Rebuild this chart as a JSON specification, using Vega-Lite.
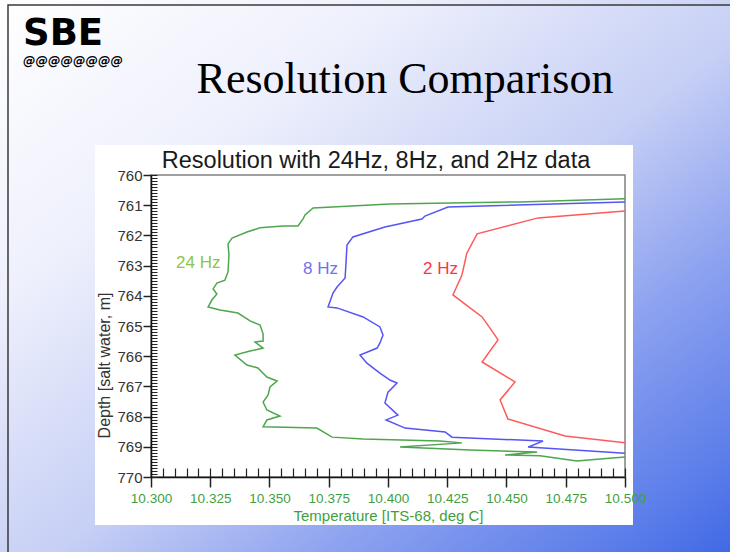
{
  "$schema": "https://vega.github.io/schema/vega-lite/v6.json",
  "width": 474,
  "height": 302,
  "autosize": {"type": "none"},
  "padding": {"left": 151, "top": 175, "right": 105, "bottom": 75},
  "background": "#ffffff",
  "config": {"view": {"stroke": null}, "font": "Liberation Sans"},
  "title": {"text": "Resolution with 24Hz, 8Hz, and 2Hz data", "frame": "group", "anchor": "middle", "orient": "top", "baseline": "alphabetic", "offset": 9, "dx": -12, "dy": 200, "fontSize": 23.5, "fontWeight": "normal", "font": "Liberation Sans", "color": "#1a1a1a", "zindex": 1},
  "datasets": {
    "profiles": [
      {"series": "24 Hz", "order": 1, "temp": 10.5, "depth": 760.79},
      {"series": "24 Hz", "order": 2, "temp": 10.4557, "depth": 760.89},
      {"series": "24 Hz", "order": 3, "temp": 10.4008, "depth": 760.96},
      {"series": "24 Hz", "order": 4, "temp": 10.3684, "depth": 761.09},
      {"series": "24 Hz", "order": 5, "temp": 10.365, "depth": 761.32},
      {"series": "24 Hz", "order": 6, "temp": 10.3641, "depth": 761.46},
      {"series": "24 Hz", "order": 7, "temp": 10.362, "depth": 761.69},
      {"series": "24 Hz", "order": 8, "temp": 10.3557, "depth": 761.69},
      {"series": "24 Hz", "order": 9, "temp": 10.346, "depth": 761.75},
      {"series": "24 Hz", "order": 10, "temp": 10.3405, "depth": 761.89},
      {"series": "24 Hz", "order": 11, "temp": 10.3342, "depth": 762.09},
      {"series": "24 Hz", "order": 12, "temp": 10.3325, "depth": 762.28},
      {"series": "24 Hz", "order": 13, "temp": 10.3329, "depth": 762.65},
      {"series": "24 Hz", "order": 14, "temp": 10.3325, "depth": 763.21},
      {"series": "24 Hz", "order": 15, "temp": 10.3312, "depth": 763.48},
      {"series": "24 Hz", "order": 16, "temp": 10.3278, "depth": 763.58},
      {"series": "24 Hz", "order": 17, "temp": 10.3262, "depth": 763.77},
      {"series": "24 Hz", "order": 18, "temp": 10.3278, "depth": 763.94},
      {"series": "24 Hz", "order": 19, "temp": 10.3257, "depth": 764.14},
      {"series": "24 Hz", "order": 20, "temp": 10.3241, "depth": 764.37},
      {"series": "24 Hz", "order": 21, "temp": 10.3291, "depth": 764.47},
      {"series": "24 Hz", "order": 22, "temp": 10.3367, "depth": 764.57},
      {"series": "24 Hz", "order": 23, "temp": 10.3418, "depth": 764.83},
      {"series": "24 Hz", "order": 24, "temp": 10.346, "depth": 764.97},
      {"series": "24 Hz", "order": 25, "temp": 10.3473, "depth": 765.26},
      {"series": "24 Hz", "order": 26, "temp": 10.3473, "depth": 765.5},
      {"series": "24 Hz", "order": 27, "temp": 10.3439, "depth": 765.53},
      {"series": "24 Hz", "order": 28, "temp": 10.3473, "depth": 765.73},
      {"series": "24 Hz", "order": 29, "temp": 10.3418, "depth": 765.83},
      {"series": "24 Hz", "order": 30, "temp": 10.3354, "depth": 765.96},
      {"series": "24 Hz", "order": 31, "temp": 10.3405, "depth": 766.29},
      {"series": "24 Hz", "order": 32, "temp": 10.3451, "depth": 766.39},
      {"series": "24 Hz", "order": 33, "temp": 10.3489, "depth": 766.69},
      {"series": "24 Hz", "order": 34, "temp": 10.3532, "depth": 766.82},
      {"series": "24 Hz", "order": 35, "temp": 10.3502, "depth": 767.02},
      {"series": "24 Hz", "order": 36, "temp": 10.3494, "depth": 767.28},
      {"series": "24 Hz", "order": 37, "temp": 10.3473, "depth": 767.52},
      {"series": "24 Hz", "order": 38, "temp": 10.3489, "depth": 767.78},
      {"series": "24 Hz", "order": 39, "temp": 10.3544, "depth": 767.98},
      {"series": "24 Hz", "order": 40, "temp": 10.3489, "depth": 768.11},
      {"series": "24 Hz", "order": 41, "temp": 10.3473, "depth": 768.34},
      {"series": "24 Hz", "order": 42, "temp": 10.37, "depth": 768.38},
      {"series": "24 Hz", "order": 43, "temp": 10.3764, "depth": 768.68},
      {"series": "24 Hz", "order": 44, "temp": 10.3895, "depth": 768.74},
      {"series": "24 Hz", "order": 45, "temp": 10.4219, "depth": 768.81},
      {"series": "24 Hz", "order": 46, "temp": 10.4312, "depth": 768.87},
      {"series": "24 Hz", "order": 47, "temp": 10.4051, "depth": 769.01},
      {"series": "24 Hz", "order": 48, "temp": 10.4346, "depth": 769.11},
      {"series": "24 Hz", "order": 49, "temp": 10.4629, "depth": 769.17},
      {"series": "24 Hz", "order": 50, "temp": 10.4494, "depth": 769.27},
      {"series": "24 Hz", "order": 51, "temp": 10.4641, "depth": 769.3},
      {"series": "24 Hz", "order": 52, "temp": 10.4797, "depth": 769.47},
      {"series": "24 Hz", "order": 53, "temp": 10.4895, "depth": 769.4},
      {"series": "24 Hz", "order": 54, "temp": 10.5, "depth": 769.34},
      {"series": "8 Hz", "order": 1, "temp": 10.5, "depth": 760.89},
      {"series": "8 Hz", "order": 2, "temp": 10.4253, "depth": 761.06},
      {"series": "8 Hz", "order": 3, "temp": 10.4156, "depth": 761.36},
      {"series": "8 Hz", "order": 4, "temp": 10.4143, "depth": 761.46},
      {"series": "8 Hz", "order": 5, "temp": 10.3987, "depth": 761.72},
      {"series": "8 Hz", "order": 6, "temp": 10.3852, "depth": 762.05},
      {"series": "8 Hz", "order": 7, "temp": 10.3827, "depth": 762.32},
      {"series": "8 Hz", "order": 8, "temp": 10.3823, "depth": 762.88},
      {"series": "8 Hz", "order": 9, "temp": 10.3819, "depth": 763.41},
      {"series": "8 Hz", "order": 10, "temp": 10.3785, "depth": 763.71},
      {"series": "8 Hz", "order": 11, "temp": 10.3768, "depth": 763.91},
      {"series": "8 Hz", "order": 12, "temp": 10.3747, "depth": 764.37},
      {"series": "8 Hz", "order": 13, "temp": 10.3785, "depth": 764.4},
      {"series": "8 Hz", "order": 14, "temp": 10.3895, "depth": 764.7},
      {"series": "8 Hz", "order": 15, "temp": 10.3966, "depth": 765.03},
      {"series": "8 Hz", "order": 16, "temp": 10.3979, "depth": 765.3},
      {"series": "8 Hz", "order": 17, "temp": 10.3966, "depth": 765.56},
      {"series": "8 Hz", "order": 18, "temp": 10.3954, "depth": 765.73},
      {"series": "8 Hz", "order": 19, "temp": 10.3882, "depth": 765.96},
      {"series": "8 Hz", "order": 20, "temp": 10.3911, "depth": 766.23},
      {"series": "8 Hz", "order": 21, "temp": 10.3966, "depth": 766.56},
      {"series": "8 Hz", "order": 22, "temp": 10.4008, "depth": 766.79},
      {"series": "8 Hz", "order": 23, "temp": 10.4038, "depth": 766.89},
      {"series": "8 Hz", "order": 24, "temp": 10.4, "depth": 767.19},
      {"series": "8 Hz", "order": 25, "temp": 10.3987, "depth": 767.55},
      {"series": "8 Hz", "order": 26, "temp": 10.4042, "depth": 767.95},
      {"series": "8 Hz", "order": 27, "temp": 10.3992, "depth": 768.11},
      {"series": "8 Hz", "order": 28, "temp": 10.4072, "depth": 768.38},
      {"series": "8 Hz", "order": 29, "temp": 10.4241, "depth": 768.51},
      {"series": "8 Hz", "order": 30, "temp": 10.427, "depth": 768.68},
      {"series": "8 Hz", "order": 31, "temp": 10.4654, "depth": 768.81},
      {"series": "8 Hz", "order": 32, "temp": 10.4591, "depth": 769.01},
      {"series": "8 Hz", "order": 33, "temp": 10.5, "depth": 769.21},
      {"series": "2 Hz", "order": 1, "temp": 10.5, "depth": 761.19},
      {"series": "2 Hz", "order": 2, "temp": 10.4633, "depth": 761.42},
      {"series": "2 Hz", "order": 3, "temp": 10.4376, "depth": 761.95},
      {"series": "2 Hz", "order": 4, "temp": 10.4333, "depth": 762.58},
      {"series": "2 Hz", "order": 5, "temp": 10.4312, "depth": 763.31},
      {"series": "2 Hz", "order": 6, "temp": 10.4274, "depth": 763.97},
      {"series": "2 Hz", "order": 7, "temp": 10.4397, "depth": 764.7},
      {"series": "2 Hz", "order": 8, "temp": 10.4451, "depth": 765.3},
      {"series": "2 Hz", "order": 9, "temp": 10.4464, "depth": 765.46},
      {"series": "2 Hz", "order": 10, "temp": 10.4397, "depth": 766.19},
      {"series": "2 Hz", "order": 11, "temp": 10.4536, "depth": 766.85},
      {"series": "2 Hz", "order": 12, "temp": 10.4473, "depth": 767.45},
      {"series": "2 Hz", "order": 13, "temp": 10.4506, "depth": 768.08},
      {"series": "2 Hz", "order": 14, "temp": 10.4747, "depth": 768.64},
      {"series": "2 Hz", "order": 15, "temp": 10.5, "depth": 768.87}
    ],
    "labels": [
      {"series": "24 Hz", "temp": 10.31055, "depth": 762.91},
      {"series": "8 Hz", "temp": 10.36414, "depth": 763.11},
      {"series": "2 Hz", "temp": 10.41477, "depth": 763.11}
    ]
  },
  "resolve": {"axis": {"x": "independent", "y": "independent"}, "scale": {"color": "independent"}},
  "layer": [
    {
      "data": {"values": [{}]},
      "mark": {"type": "rect", "fill": {"gradient": "linear", "x1": 0, "y1": 0, "x2": 1, "y2": 1, "stops": [{"offset": 0, "color": "#ffffff"}, {"offset": 0.27, "color": "#eef0fc"}, {"offset": 0.54, "color": "#c6cff5"}, {"offset": 0.725, "color": "#8da2f0"}, {"offset": 0.91, "color": "#5c7eea"}, {"offset": 1, "color": "#4169e6"}]}, "strokeWidth": 0},
      "encoding": {
        "x": {"datum": 10.236287, "type": "quantitative", "scale": {"domain": [10.3, 10.5], "nice": false, "zero": false}, "axis": null},
        "x2": {"datum": 10.544304},
        "y": {"datum": 754.2053, "type": "quantitative", "scale": {"domain": [760, 770], "nice": false, "zero": false, "reverse": true}, "axis": null},
        "y2": {"datum": 772.4834}
      }
    },
    {
      "data": {"values": [{}]},
      "mark": {"type": "rect", "filled": false, "stroke": "#3a3a3a", "strokeWidth": 1.5},
      "encoding": {
        "x": {"datum": 10.239662, "type": "quantitative", "scale": {"domain": [10.3, 10.5], "nice": false, "zero": false}, "axis": null},
        "x2": {"datum": 10.557},
        "y": {"datum": 754.3709, "type": "quantitative", "scale": {"domain": [760, 770], "nice": false, "zero": false, "reverse": true}, "axis": null},
        "y2": {"datum": 773.4}
      }
    },
    {
      "data": {"values": [{}]},
      "mark": {"type": "rect", "fill": "#ffffff", "strokeWidth": 0},
      "encoding": {
        "x": {"datum": 10.276371, "type": "quantitative", "scale": {"domain": [10.3, 10.5], "nice": false, "zero": false}, "axis": null},
        "x2": {"datum": 10.503376},
        "y": {"datum": 759.0066, "type": "quantitative", "scale": {"domain": [760, 770], "nice": false, "zero": false, "reverse": true}, "axis": null},
        "y2": {"datum": 771.5894}
      }
    },
    {
      "data": {"values": [{}]},
      "mark": {"type": "rect", "filled": false, "stroke": "#808080", "strokeWidth": 1.5},
      "encoding": {
        "x": {"datum": 10.3, "type": "quantitative", "scale": {"domain": [10.3, 10.5], "nice": false, "zero": false}, "axis": null},
        "x2": {"datum": 10.5},
        "y": {"datum": 760, "type": "quantitative", "scale": {"domain": [760, 770], "nice": false, "zero": false, "reverse": true}, "axis": null},
        "y2": {"datum": 770}
      }
    },
    {
      "data": {"name": "profiles"},
      "mark": {"type": "line", "strokeWidth": 1.5, "clip": true},
      "encoding": {
        "x": {"field": "temp", "type": "quantitative", "scale": {"domain": [10.3, 10.5], "nice": false, "zero": false},
          "axis": {"orient": "bottom", "values": [10.3, 10.325, 10.35, 10.375, 10.4, 10.425, 10.45, 10.475, 10.5], "format": ".3f", "labelColor": "#3f9f3f", "labelFontSize": 13.5, "labelFont": "Liberation Sans", "labelPadding": 4, "labelFlush": false, "labelOverlap": false, "tickSize": 10, "tickColor": "#222222", "tickWidth": 1.5, "domainColor": "#111111", "domainWidth": 1.5, "grid": false, "title": "Temperature [ITS-68, deg C]", "titleColor": "#3f9f3f", "titleFont": "Liberation Sans", "titleFontSize": 15, "titleFontWeight": "normal", "titleY": 43, "titleBaseline": "alphabetic", "zindex": 1}},
        "y": {"field": "depth", "type": "quantitative", "scale": {"domain": [760, 770], "nice": false, "zero": false, "reverse": true},
          "axis": {"orient": "left", "values": [760, 761, 762, 763, 764, 765, 766, 767, 768, 769, 770], "format": "d", "labelColor": "#333333", "labelFontSize": 15, "labelFont": "Liberation Sans", "labelPadding": 1, "labelFlush": false, "labelOverlap": false, "tickSize": 8, "tickColor": "#222222", "tickWidth": 1.5, "domainColor": "#111111", "domainWidth": 1.5, "grid": false, "title": "Depth [salt water, m]", "titleColor": "#333333", "titleFont": "Liberation Sans", "titleFontSize": 16, "titleFontWeight": "normal", "titleX": -47, "titleY": 190, "titleBaseline": "middle", "titleAlign": "center", "zindex": 1}},
        "color": {"field": "series", "type": "nominal", "scale": {"domain": ["24 Hz", "8 Hz", "2 Hz"], "range": ["#4ea64e", "#5555f5", "#ff5a5a"]}, "legend": null},
        "order": {"field": "order", "type": "quantitative"}
      }
    },
    {
      "data": {"values": [{}]},
      "mark": {"type": "point", "opacity": 0},
      "encoding": {
        "x": {"datum": 10.3, "type": "quantitative", "scale": {"domain": [10.3, 10.5], "nice": false, "zero": false},
          "axis": {"orient": "bottom", "tickCount": 40, "labels": false, "domain": false, "grid": false, "title": null, "tickSize": -9, "tickColor": "#222222", "tickWidth": 1.2, "zindex": 1}},
        "y": {"datum": 760, "type": "quantitative", "scale": {"domain": [760, 770], "nice": false, "zero": false, "reverse": true},
          "axis": {"orient": "left", "tickCount": 100, "labels": false, "domain": false, "grid": false, "title": null, "tickSize": -6, "tickColor": "#222222", "tickWidth": 1, "zindex": 1}}
      }
    },
    {
      "data": {"name": "labels"},
      "mark": {"type": "text", "align": "left", "baseline": "middle", "fontSize": 17, "font": "Liberation Sans"},
      "encoding": {
        "x": {"field": "temp", "type": "quantitative", "scale": {"domain": [10.3, 10.5], "nice": false, "zero": false}, "axis": null},
        "y": {"field": "depth", "type": "quantitative", "scale": {"domain": [760, 770], "nice": false, "zero": false, "reverse": true}, "axis": null},
        "text": {"field": "series"},
        "color": {"field": "series", "type": "nominal", "scale": {"domain": ["24 Hz", "8 Hz", "2 Hz"], "range": ["#8cc63f", "#7272ea", "#ff3344"]}, "legend": null}
      }
    },
    {
      "data": {"values": [{}]},
      "mark": {"type": "text", "text": "Resolution Comparison", "align": "center", "baseline": "alphabetic", "font": "Liberation Serif", "fontSize": 44, "color": "#000000"},
      "encoding": {
        "x": {"datum": 10.40717, "type": "quantitative", "scale": {"domain": [10.3, 10.5], "nice": false, "zero": false}, "axis": null},
        "y": {"datum": 757.2848, "type": "quantitative", "scale": {"domain": [760, 770], "nice": false, "zero": false, "reverse": true}, "axis": null}
      }
    },
    {
      "data": {"values": [{}]},
      "mark": {"type": "text", "text": "SBE", "align": "left", "baseline": "alphabetic", "font": "DejaVu Sans", "fontWeight": "bold", "fontSize": 37, "color": "#000000"},
      "encoding": {
        "x": {"datum": 10.245992, "type": "quantitative", "scale": {"domain": [10.3, 10.5], "nice": false, "zero": false}, "axis": null},
        "y": {"datum": 755.6954, "type": "quantitative", "scale": {"domain": [760, 770], "nice": false, "zero": false, "reverse": true}, "axis": null}
      }
    },
    {
      "data": {"values": [{}]},
      "mark": {"type": "text", "text": "@@@@@@@@", "align": "left", "baseline": "alphabetic", "font": "DejaVu Sans", "fontWeight": "bold", "fontStyle": "italic", "fontSize": 12.5, "color": "#000000"},
      "encoding": {
        "x": {"datum": 10.245992, "type": "quantitative", "scale": {"domain": [10.3, 10.5], "nice": false, "zero": false}, "axis": null},
        "y": {"datum": 756.3576, "type": "quantitative", "scale": {"domain": [760, 770], "nice": false, "zero": false, "reverse": true}, "axis": null}
      }
    }
  ]
}
